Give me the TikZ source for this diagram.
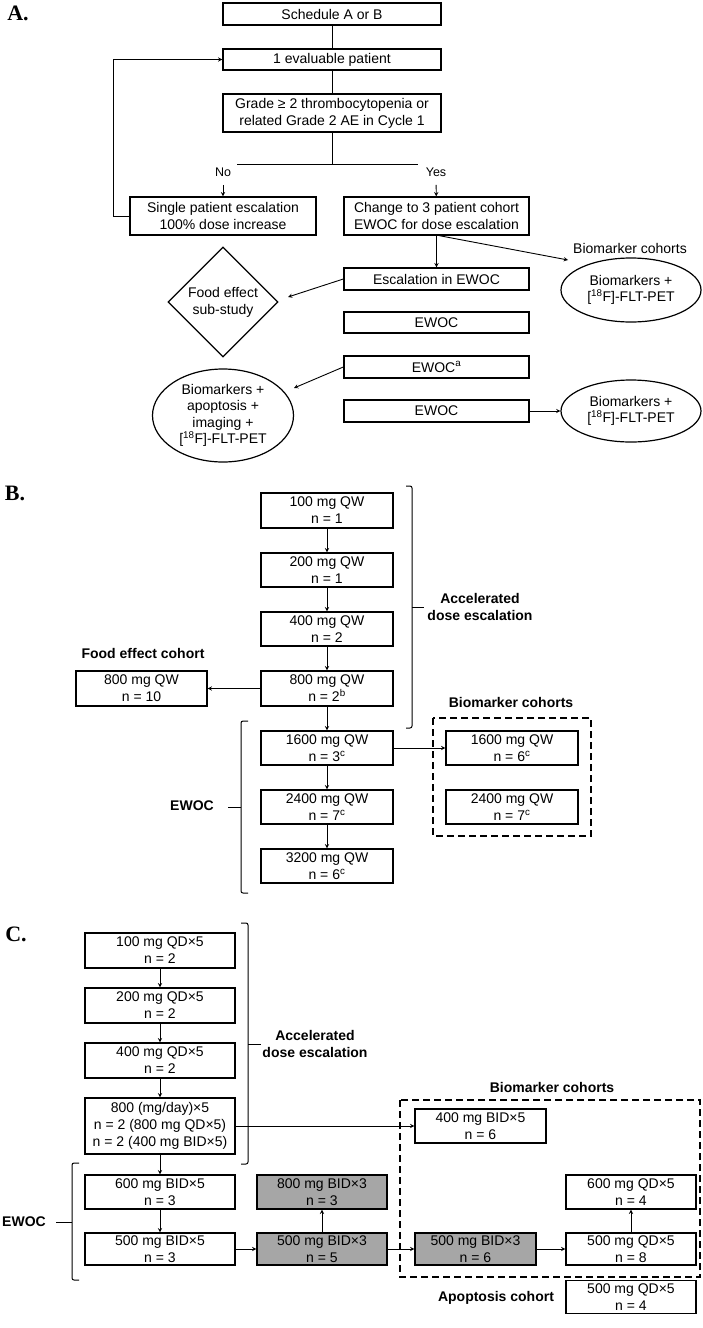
\documentclass[tikz,border=0pt]{standalone}
\usepackage{fontspec}
\setmainfont{Liberation Sans}
\newfontfamily\panelfont{Liberation Serif}
\usetikzlibrary{arrows,shapes.geometric}
\definecolor{cohortgray}{RGB}{166,166,166}
\tikzset{
  box/.style={draw, line width=1.4pt, inner sep=1pt, align=center, font=\fontsize{14}{17}\selectfont},
  greybox/.style={box, fill=cohortgray},
  wh/.style 2 args={minimum width=#1, minimum height=#2},
  oval/.style={draw, ellipse, line width=1.2pt, inner sep=0pt, align=center, font=\fontsize{14}{16.5}\selectfont},
  lbl/.style={font=\bfseries\fontsize{14}{17}\selectfont, align=center},
  plain/.style={font=\fontsize{14}{17}\selectfont},
  small/.style={font=\fontsize{12.5}{14}\selectfont},
  arr/.style={-stealth, line width=0.9pt},
  brack/.style={line width=1pt, rounded corners=2pt},
  panel/.style={font=\panelfont\bfseries\fontsize{22}{22}\selectfont}
}
\begin{document}
\begin{tikzpicture}[x=1pt,y=-1pt]
        \useasboundingbox (0,0) rectangle (703,1328);

        % A.
        \node[panel] (pa) at (18,13) {A.};
        \node[box,wh={218}{22}] (sched) at (332,14) {Schedule A or B};
        \node[box,wh={218}{21}] (evalp) at (332,59.5) {1 evaluable patient};
        \node[box,wh={218}{38}] (grade) at (332,113) {Grade ≥ 2 thrombocytopenia or\\related Grade 2 AE in Cycle 1};
        \coordinate (barl) at (237,164);
        \coordinate (barm) at (332,164);
        \coordinate (barr) at (418,164);
        \node[small] (no) at (223,172) {No};
        \node[small] (yes) at (436,172) {Yes};
        \node[box,wh={186}{38}] (single) at (223,216) {Single patient escalation\\100\% dose increase};
        \node[box,wh={185}{38}] (change) at (436.5,216) {Change to 3 patient cohort\\EWOC for dose escalation};
        \node[box,wh={185}{22}] (escal) at (436.5,279) {Escalation in EWOC};
        \node[box,wh={185}{21}] (ewoc1) at (436.5,322.5) {EWOC};
        \node[box,wh={185}{22}] (ewoca) at (436.5,367) {EWOC\textsuperscript{a}};
        \node[box,wh={185}{22}] (ewoc3) at (436.5,411) {EWOC};
        \node[draw,diamond,line width=1.2pt,inner sep=0pt,wh={110}{110},align=center,font=\fontsize{14}{17}\selectfont] (food) at (223,302) {Food effect\\sub-study};
        \node[plain] (biolbl) at (630,248) {Biomarker cohorts};
        \node[oval,wh={140}{64}] (bioa) at (631,290) {Biomarkers +\\{[}\textsuperscript{18}F]-FLT-PET};
        \node[oval,wh={141}{93}] (bioapo) at (223,415.5) {Biomarkers +\\apoptosis +\\imaging +\\{[}\textsuperscript{18}F]-FLT-PET};
        \node[oval,wh={140}{62}] (biob) at (631,411) {Biomarkers +\\{[}\textsuperscript{18}F]-FLT-PET};
        \coordinate (biotip) at (568,260);
        \coordinate (foodtip) at (288,297);
        \coordinate (apotip) at (294,388);

        \draw[line width=0.9pt] (sched) -- (evalp);
        \draw[line width=0.9pt] (evalp) -- (grade);
        \draw[line width=0.9pt] (grade) -- (barm);
        \draw[line width=0.9pt] (barl) -- (barr);
        \draw[arr,shorten <=5pt] (no) -- (single);
        \draw[arr,shorten <=5pt] (yes) -- (change);
        \draw[arr] (single.west) -- ++(-16,0) |- (evalp.west);
        \draw[arr] (change) -- (escal);
        \draw[arr] ([xshift=3pt]change.south) -- (biotip);
        \draw[arr] (escal.west) -- (foodtip);
        \draw[arr] (ewoca.west) -- (apotip);
        \draw[arr] (ewoc3) -- (biob);

        % B.
        \node[panel] (pb) at (15,493) {B.};
        \node[box,wh={132}{35}] (b100) at (327,510.5) {100 mg QW\\n = 1};
        \node[box,wh={132}{34}] (b200) at (327,570) {200 mg QW\\n = 1};
        \node[box,wh={132}{34}] (b400) at (327,629) {400 mg QW\\n = 2};
        \node[box,wh={132}{35}] (b800) at (327,688.5) {800 mg QW\\n = 2\textsuperscript{b}};
        \node[box,wh={132}{34}] (b1600) at (327,748) {1600 mg QW\\n = 3\textsuperscript{c}};
        \node[box,wh={132}{34}] (b2400) at (327,807) {2400 mg QW\\n = 7\textsuperscript{c}};
        \node[box,wh={132}{34}] (b3200) at (327,866) {3200 mg QW\\n = 6\textsuperscript{c}};
        \node[lbl] (foodlbl) at (143,653) {Food effect cohort};
        \node[box,wh={131}{35}] (food10) at (141.5,688.5) {800 mg QW\\n = 10};
        \node[lbl] (acclbl) at (480,607) {Accelerated\\dose escalation};
        \node[lbl] (ewoclbl) at (192,806) {EWOC};
        \node[lbl] (biolblb) at (511,702) {Biomarker cohorts};
        \node[box,wh={132}{34}] (bio1600) at (512,748) {1600 mg QW\\n = 6\textsuperscript{c}};
        \node[box,wh={132}{34}] (bio2400) at (512,807) {2400 mg QW\\n = 7\textsuperscript{c}};
        \draw[line width=1.3pt,dash pattern=on 7pt off 4pt] (433,718) rectangle (591,836);
        \draw[brack] (406,486) -- (412,486) -- (412,728) -- (406,728);
        \draw[brack] (412,607) -- (424,607);
        \draw[brack] (248,721) -- (241,721) -- (241,893) -- (248,893);
        \draw[brack] (241,807) -- (228,807);

        \foreach \a/\b in {b100/b200,b200/b400,b400/b800,b800/b1600,b1600/b2400,b2400/b3200}
            \draw[arr] (\a) -- (\b);
        \draw[arr] (b800) -- (food10);
        \draw[arr] (b1600) -- (bio1600);

        % C.
        \node[panel] (pc) at (16,934) {C.};
        \node[box,wh={150}{35}] (c100) at (160,950.5) {100 mg QD×5\\n = 2};
        \node[box,wh={150}{35}] (c200) at (160,1005.5) {200 mg QD×5\\n = 2};
        \node[box,wh={150}{35}] (c400) at (160,1060.5) {400 mg QD×5\\n = 2};
        \node[box,wh={150}{56}] (c800) at (160,1126) {800 (mg/day)×5\\n = 2 (800 mg QD×5)\\n = 2 (400 mg BID×5)};
        \node[box,wh={150}{34}] (c600b) at (160,1192) {600 mg BID×5\\n = 3};
        \node[box,wh={150}{32}] (c500b) at (160,1249) {500 mg BID×5\\n = 3};
        \node[greybox,wh={130}{34}] (g800) at (322,1192) {800 mg BID×3\\n = 3};
        \node[greybox,wh={130}{32}] (g500a) at (322,1249) {500 mg BID×3\\n = 5};
        \node[greybox,wh={121}{32}] (g500b) at (475.5,1249) {500 mg BID×3\\n = 6};
        \node[box,wh={130}{34}] (q600) at (631,1192) {600 mg QD×5\\n = 4};
        \node[box,wh={130}{32}] (q500) at (631,1249) {500 mg QD×5\\n = 8};
        \node[box,wh={131}{34}] (bid400) at (480.5,1126) {400 mg BID×5\\n = 6};
        \node[box,wh={130}{33}] (apo) at (631,1297) {500 mg QD×5\\n = 4};
        \node[lbl] (acclblc) at (315,1044) {Accelerated\\dose escalation};
        \node[lbl] (biolblc) at (552,1087) {Biomarker cohorts};
        \node[lbl] (ewoclblc) at (24,1222) {EWOC};
        \node[lbl] (apolbl) at (496,1298) {Apoptosis cohort};
        \draw[line width=1.3pt,dash pattern=on 7pt off 4pt] (400,1100) rectangle (700,1277);
        \draw[brack] (241,923) -- (248,923) -- (248,1164) -- (241,1164);
        \draw[brack] (248,1044) -- (261,1044);
        \draw[brack] (79,1163) -- (72,1163) -- (72,1280) -- (79,1280);
        \draw[brack] (72,1222) -- (56,1222);

        \foreach \a/\b in {c100/c200,c200/c400,c400/c800,c800/c600b,c600b/c500b,c500b/g500a,g500a/g500b,g500b/q500,g500a/g800,q500/q600}
            \draw[arr] (\a) -- (\b);
        \draw[arr] (c800) -- (bid400);
\end{tikzpicture}
\end{document}
